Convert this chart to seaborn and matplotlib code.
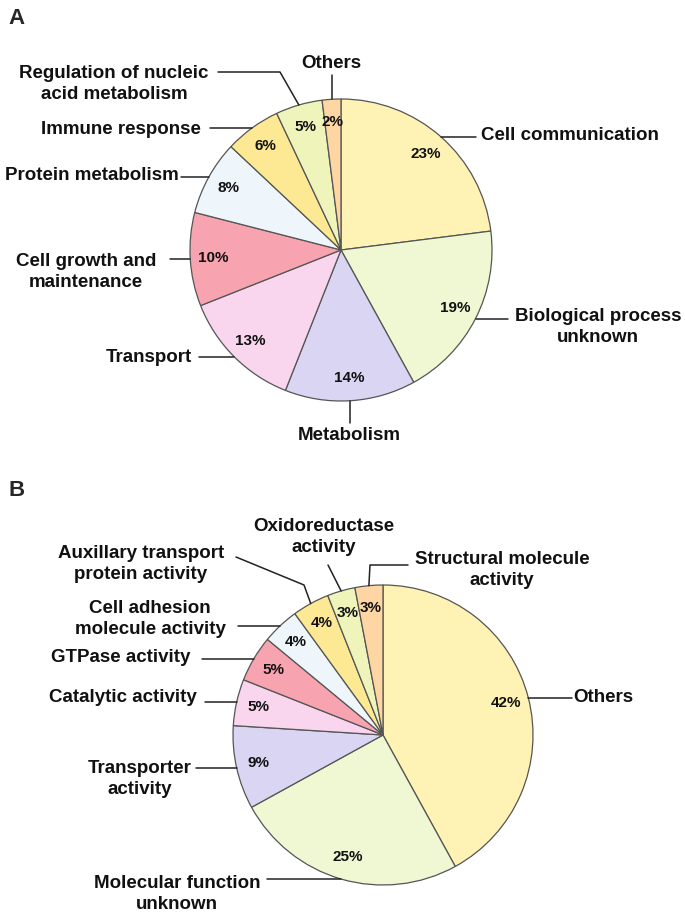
import numpy as np
import seaborn as sns
import matplotlib.pyplot as plt

# Panel A: biological process
bp_labels = ['Cell communication', 'Biological process\nunknown', 'Metabolism',
             'Transport', 'Cell growth and\nmaintenance', 'Protein metabolism',
             'Immune response', 'Regulation of nucleic\nacid metabolism', 'Others']
bp_values = [23, 19, 14, 13, 10, 8, 6, 5, 2]

# Panel B: molecular function
mf_labels = ['Others', 'Molecular function\nunknown', 'Transporter\nactivity',
             'Catalytic activity', 'GTPase activity', 'Cell adhesion\nmolecule activity',
             'Auxillary transport\nprotein activity', 'Oxidoreductase\nactivity',
             'Structural molecule\nactivity']
mf_values = [42, 25, 9, 5, 5, 4, 4, 3, 3]

colors = sns.color_palette(['#FEF3B4', '#EFF8D3', '#DAD5F2', '#F9D6EE', '#F8A4B0',
                            '#EEF6FC', '#FDE993', '#EEF4BA', '#FDD6A4'])

sns.set_theme(style='white')
plt.rcParams['font.family'] = ['Liberation Sans', 'DejaVu Sans']

W, H = 685, 916
fig = plt.figure(figsize=(W / 100, H / 100), dpi=100)
ax = fig.add_axes([0, 0, 1, 1])


def Y(y):
    return H - y


# label layout: (text x, text y, ha, waypoints from text side to wedge edge)
# None in a waypoint means "take the edge point's coordinate"
bp_layout = [
    (481, 135, 'left', [(476, None)]),
    (598, 327, 'center', [(508, None)]),
    (349, 436, 'center', [(None, 423)]),
    (192, 358, 'right', [(199, None)]),
    (86, 272, 'center', [(170, None)]),
    (179, 176, 'right', [(181, None)]),
    (201, 129, 'right', [(210, None)]),
    (114, 84, 'center', [(218, 72), (280, 72)]),
    (331, 64, 'center', [(None, 75)]),
]
mf_layout = [
    (573, 697, 'left', [(572, None)]),
    (177, 894, 'center', [(267, None)]),
    (140, 779, 'center', [(196, None)]),
    (197, 698, 'right', [(205, None)]),
    (190, 657, 'right', [(202, None)]),
    (150, 619, 'center', [(238, None)]),
    (141, 564, 'center', [(236, 557), (304, 585)]),
    (324, 537, 'center', [(328, 565)]),
    (502, 570, 'center', [(408, 565), (370, 565)]),
]


def draw_pie(values, labels, layout, cx, cy, r):
    wedges, texts, autotexts = ax.pie(
        values, colors=colors, startangle=90, counterclock=False,
        center=(cx, Y(cy)), radius=r, autopct='%d%%', pctdistance=0.85,
        wedgeprops=dict(edgecolor='#555555', linewidth=0.9),
        textprops=dict(fontsize=11, fontweight='bold', color='#111111'))
    for w, lab, (tx, ty, ha, pts) in zip(wedges, labels, layout):
        mid = np.deg2rad((w.theta1 + w.theta2) / 2)
        ex, ey = cx + r * np.cos(mid), cy - r * np.sin(mid)
        xs, ys = [], []
        for px, py in pts:
            xs.append(ex if px is None else px)
            ys.append(ey if py is None else py)
        xs.append(ex)
        ys.append(ey)
        ax.plot(xs, [Y(v) for v in ys], color='#222222', lw=1.1)
        ax.text(tx, Y(ty), lab, ha=ha, va='center', multialignment='center',
                fontsize=13.5, fontweight='bold', color='#111111', linespacing=1.35)


draw_pie(bp_values, bp_labels, bp_layout, 341, 250, 151)
draw_pie(mf_values, mf_labels, mf_layout, 383, 735, 150)

ax.text(8, Y(18), 'A', fontsize=16, fontweight='bold', va='center', ha='left')
ax.text(8, Y(490), 'B', fontsize=16, fontweight='bold', va='center', ha='left')

ax.set_xlim(0, W)
ax.set_ylim(0, H)
ax.set_aspect('auto')
ax.axis('off')

fig.savefig('out.png', dpi=100)
